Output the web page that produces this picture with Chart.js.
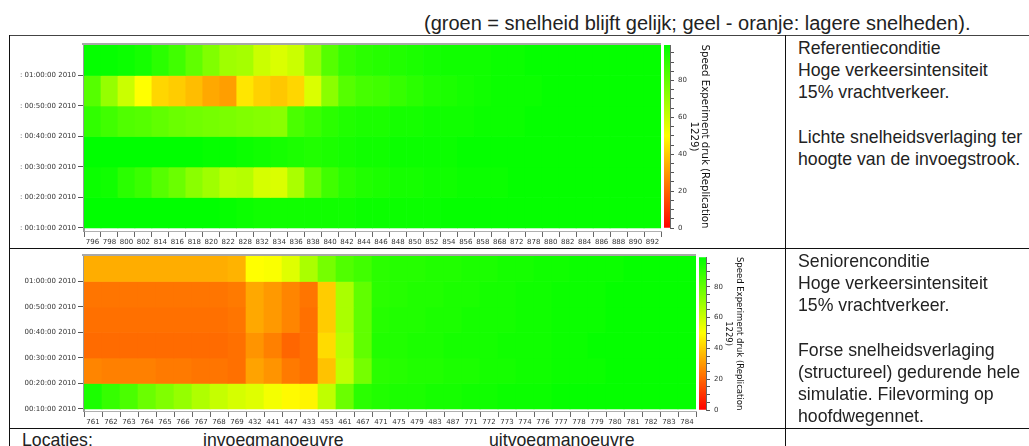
<!DOCTYPE html>
<html>
<head>
<meta charset="utf-8">
<script src="https://cdn.jsdelivr.net/npm/chart.js@4"></script>
<style>
  html, body { margin: 0; padding: 0; background: #fff; }
  body { width: 1029px; height: 446px; position: relative; overflow: hidden; font-family: "Liberation Sans", sans-serif; color: #222; filter: blur(0.35px); }
  canvas { position: absolute; }
  .line { position: absolute; background: #111; }
  .txt { position: absolute; white-space: nowrap; font-size: 17.7px; line-height: 22.2px; }
</style>
</head>
<body>
<div class="txt" style="left:424px;top:12px;font-size:20px;line-height:22px">(groen = snelheid blijft gelijk; geel - oranje: lagere snelheden).</div>

<div class="line" style="left:9px;top:35px;width:1020px;height:1px;background:#444"></div>
<div class="line" style="left:9px;top:248px;width:1020px;height:1px"></div>
<div class="line" style="left:9px;top:428px;width:1020px;height:1px"></div>
<div class="line" style="left:9px;top:35px;width:1px;height:411px"></div>
<div class="line" style="left:785px;top:35px;width:1px;height:411px"></div>

<canvas id="refHeat" width="664" height="212" style="left:0;top:36px"></canvas>
<canvas id="refBar" width="48" height="212" style="left:662px;top:36px"></canvas>
<canvas id="senHeat" width="698" height="179" style="left:0;top:249px"></canvas>
<canvas id="senBar" width="48" height="179" style="left:697px;top:249px"></canvas>

<div class="txt" style="left:798px;top:37px">Referentieconditie<br>Hoge verkeersintensiteit<br>15% vrachtverkeer.<br><br>Lichte snelheidsverlaging ter<br>hoogte van de invoegstrook.</div>
<div class="txt" style="left:798px;top:250px">Seniorenconditie<br>Hoge verkeersintensiteit<br>15% vrachtverkeer.<br><br>Forse snelheidsverlaging<br>(structureel) gedurende hele<br>simulatie. Filevorming op<br>hoofdwegennet.</div>
<div class="txt" style="left:22px;top:429px">Locaties:</div>
<div class="txt" style="left:203px;top:429px">invoegmanoeuvre</div>
<div class="txt" style="left:489px;top:429px">uitvoegmanoeuvre</div>

<script>
const refLocations = ['796','798','800','802','814','816','818','820','822','828','832','834','836','838','840','842','844','846','848','850','852','854','856','858','868','872','878','880','882','884','886','888','890','892'];
const senLocations = ['761','762','763','764','765','766','767','768','769','432','441','447','433','453','461','467','471','475','479','483','487','771','772','773','774','776','777','778','779','780','781','782','783','784'];

// minutes on the time axis, and the label each one gets
const timeTicks = [10, 20, 30, 40, 50, 60];
const timeLabels = ['00:10:00 2010', '00:20:00 2010', '00:30:00 2010', '00:40:00 2010', '00:50:00 2010', '01:00:00 2010'];
const rowStarts = [60, 50, 40, 30, 20, 10];

// speed per location, one list per time slice (latest first)
const ref60 = [97,97,96,94,90,86,80,74,68,67,60,57,60,70,82,88,90,91,92,93,94,95,95,95,96,96,97,97,97,97,97,97,97,97];
const ref50 = [82,70,60,50,42,40,37,33,31,45,41,39,42,57,72,82,85,86,88,90,92,93,94,95,96,96,96,97,97,97,97,97,97,97];
const ref40 = [89,86,83,82,80,78,77,76,75,74,73,72,84,87,90,92,93,93,94,94,95,95,95,96,96,96,97,97,97,97,97,97,97,97];
const ref30 = [98,98,98,98,98,98,98,97,97,96,95,94,93,92,93,94,95,95,96,96,96,96,97,97,97,97,97,97,97,97,97,97,97,97];
const ref20 = [96,95,90,87,82,78,72,68,63,64,58,57,66,78,86,90,92,93,94,94,95,95,96,96,96,97,97,97,97,97,97,97,97,97];
const ref10 = [98,98,98,98,98,98,98,98,97,96,95,95,95,95,95,95,96,96,96,96,96,97,97,97,97,97,97,97,97,97,97,97,97,97];
const refRows = [ref60, ref50, ref40, ref30, ref20, ref10];

const sen60 = [34,34,34,34,34,34,34,34,35,50,51,56,66,76,83,86,90,91,91,92,92,93,93,94,94,95,95,96,96,96,97,97,97,97];
const sen50 = [23,23,23,23,23,23,23,23,24,33,30,26,23,40,66,80,90,91,92,92,93,93,94,94,95,95,96,96,96,97,97,97,97,97];
const sen40 = [22,22,22,22,22,22,22,22,23,33,30,26,22,40,66,80,91,92,92,93,93,94,94,94,95,95,96,96,96,97,97,97,97,97];
const sen30 = [21,21,21,21,21,21,21,21,22,29,25,20,22,43,64,80,92,92,93,93,94,94,94,95,95,95,96,96,97,97,97,97,97,97];
const sen20 = [26,25,25,25,24,24,23,23,22,32,29,24,22,38,62,76,90,91,92,92,93,93,94,94,95,95,96,96,96,97,97,97,97,97];
const sen10 = [93,88,84,78,74,70,65,61,58,56,52,49,48,62,78,90,92,93,93,94,94,95,95,96,96,96,97,97,97,97,97,97,97,97];
const senRows = [sen60, sen50, sen40, sen30, sen20, sen10];

const speedTicks = [0,5,10,15,20,25,30,35,40,45,50,55,60,65,70,75,80,85,90,95];
const speedTitle = ['Speed Experiment druk (Replication', '1229)'];
const speedMax = 99.3;

function speedColor(v) {
  if (v <= 50) return `rgb(255,${Math.round(255 * v / 50)},0)`;
  const r = Math.max(0, 255 * (1 - (v - 50) / 48));
  return `rgb(${Math.round(r)},255,0)`;
}

const grayFrame = {
  id: 'grayFrame',
  afterDraw(chart) {
    const { ctx, chartArea: a } = chart;
    ctx.save();
    ctx.fillStyle = '#a8a8a8';
    ctx.fillRect(a.left - 2, a.top - 2, a.right - a.left + 2, 2);
    ctx.restore();
  }
};

function heatChart(id, labels, rows, yMin, prefix, topPad) {
  return new Chart(document.getElementById(id), {
    type: 'bar',
    data: {
      labels,
      datasets: rows.map((row, i) => ({
        data: labels.map(() => [rowStarts[i], rowStarts[i] + 10]),
        backgroundColor: ctx => speedColor(row[ctx.dataIndex]),
        barPercentage: 1,
        categoryPercentage: 1,
        grouped: false
      }))
    },
    options: {
      responsive: false,
      animation: false,
      layout: { padding: { top: topPad, right: id === 'refHeat' ? 3 : 2, left: 0, bottom: 0 } },
      plugins: { legend: { display: false }, tooltip: { enabled: false } },
      scales: {
        x: {
          afterFit: s => { s.height = 17; },
          border: { color: '#b0b0b0', width: 1 },
          grid: { drawOnChartArea: false, tickLength: 6, tickColor: '#666' },
          ticks: { autoSkip: false, maxRotation: 0, padding: 1, color: '#333', font: { family: 'DejaVu Sans', size: 7 } }
        },
        y: {
          min: yMin,
          max: 70,
          afterFit: s => { s.width = 84; },
          afterBuildTicks: s => { s.ticks = timeTicks.map(value => ({ value })); },
          border: { color: '#9a9a9a', width: 2 },
          grid: { drawOnChartArea: false, tickLength: 6, tickColor: '#555' },
          ticks: {
            autoSkip: false,
            padding: 2,
            color: '#333',
            font: { family: 'DejaVu Sans', size: 7 },
            callback: v => prefix + timeLabels[timeTicks.indexOf(v)]
          }
        }
      }
    },
    plugins: [grayFrame]
  });
}

function speedBar(id, barWidth, topPad, bottomPad, titleSize, titleLine) {
  const left = 2;
  return new Chart(document.getElementById(id), {
    type: 'bar',
    data: {
      labels: [''],
      datasets: [{
        data: [[0, speedMax]],
        barPercentage: 1,
        categoryPercentage: 1,
        backgroundColor: ctx => {
          const y = ctx.chart.scales.y;
          const y0 = y.getPixelForValue(0);
          const y1 = y.getPixelForValue(speedMax);
          if (!Number.isFinite(y0) || !Number.isFinite(y1)) return speedColor(98);
          const g = ctx.chart.ctx.createLinearGradient(0, y0, 0, y1);
          g.addColorStop(0, speedColor(0));
          g.addColorStop(50 / speedMax, speedColor(50));
          g.addColorStop(1, speedColor(98));
          return g;
        }
      }]
    },
    options: {
      responsive: false,
      animation: false,
      layout: { padding: { top: topPad, left, bottom: bottomPad, right: 0 } },
      plugins: { legend: { display: false }, tooltip: { enabled: false } },
      scales: {
        x: { display: false },
        y: {
          position: 'right',
          min: 0,
          max: speedMax,
          afterBuildTicks: s => { s.ticks = speedTicks.map(value => ({ value })); },
          afterFit: s => { s.width = s.chart.width - left - barWidth; },
          border: { color: '#666', width: 1 },
          grid: { drawOnChartArea: false, tickLength: 4, tickColor: '#555' },
          ticks: {
            autoSkip: false,
            padding: 4,
            color: '#333',
            font: { family: 'DejaVu Sans', size: 7 },
            callback: v => (v % 20 === 0 ? String(v) : '')
          },
          title: {
            display: true,
            text: speedTitle,
            color: '#111',
            padding: 0,
            font: { family: 'DejaVu Sans', size: titleSize, lineHeight: titleLine }
          }
        }
      }
    }
  });
}

heatChart('refHeat', refLocations, refRows, 9.0, ': ', 9);
speedBar('refBar', 6, 9, 20, 10.2, 1.1);
heatChart('senHeat', senLocations, senRows, 9.2, '', 7);
speedBar('senBar', 7, 7, 18, 8.5, 1.3);
</script>
</body>
</html>
